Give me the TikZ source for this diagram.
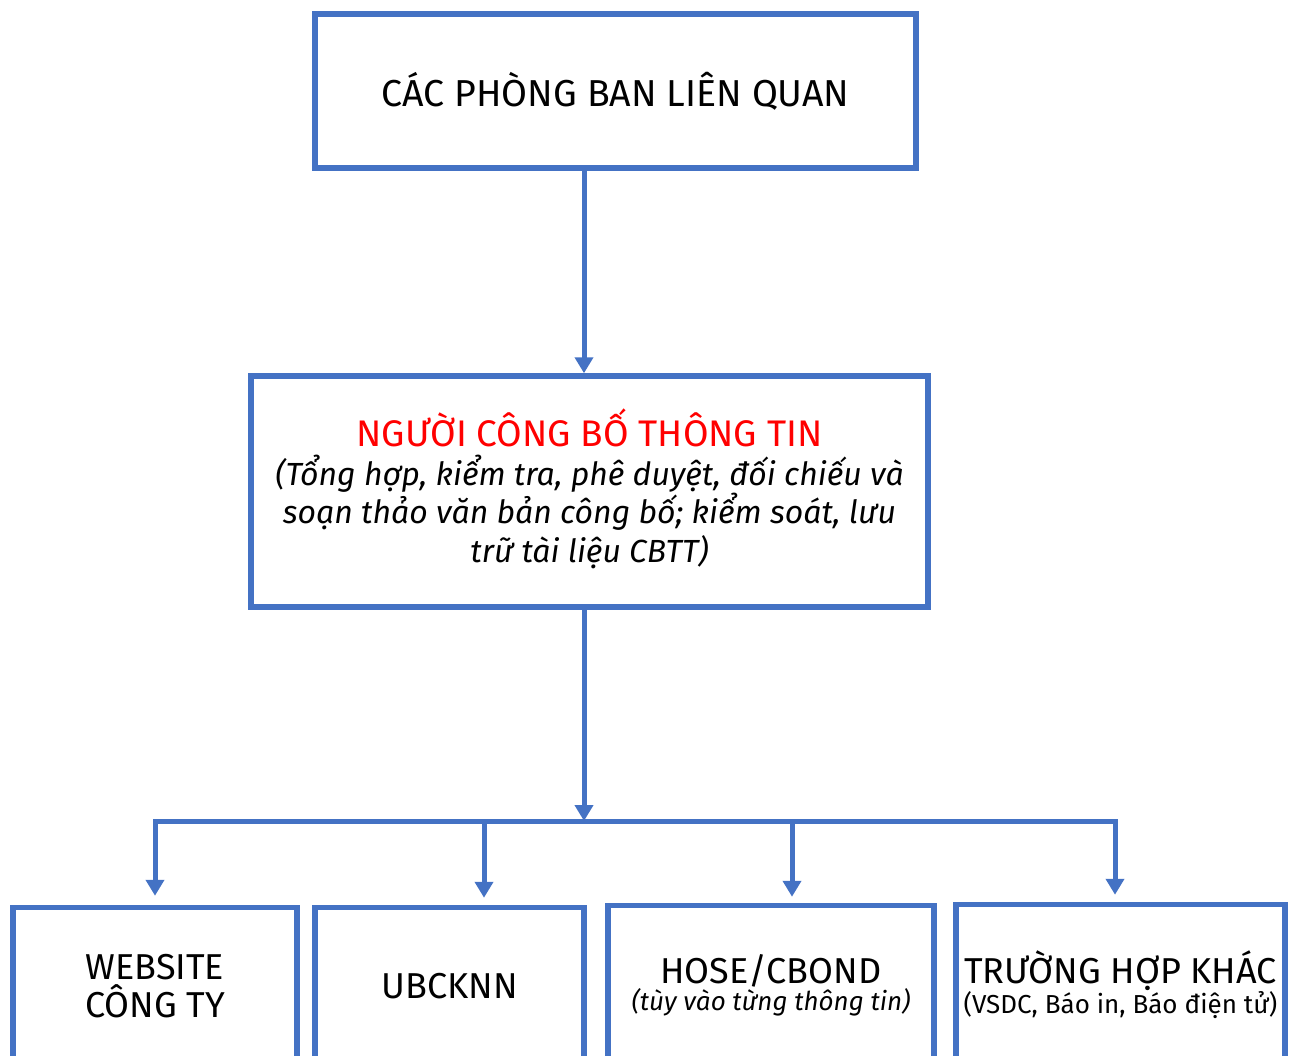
\documentclass[tikz,border=0pt]{standalone}
\usepackage{fontspec}
\setmainfont{Fira Sans}
\usetikzlibrary{arrows.meta}
\definecolor{bl}{HTML}{4472C4}
\definecolor{rd}{HTML}{FF0000}
\begin{document}
\begin{tikzpicture}[x=1pt,y=-1pt,
  box/.style={draw=bl,line width=5.5pt,align=center,inner sep=0pt},
  conn/.style={draw=bl,line width=5pt},
  arr/.style={conn,-{Triangle[width=18pt,length=16pt]}},
  big/.style={font=\fontsize{36}{38.5}\selectfont}]
\useasboundingbox (0,0) rectangle (1292,1056);
\node[box,font=\fontsize{37.5}{40}\selectfont,minimum width=601pt,minimum height=154pt] (top) at (615.5,91) {CÁC PHÒNG BAN LIÊN QUAN};
\node[box,minimum width=677pt,minimum height=231pt] (mid) at (589.5,491.5) {};
\node[big,align=center,inner sep=0pt] (midtext) at (589.5,489)
  {\textcolor{rd}{\fontsize{37}{38.5}\selectfont NGƯỜI CÔNG BỐ THÔNG TIN}\\
   {\fontsize{32}{38.5}\selectfont\itshape (Tổng hợp, kiểm tra, phê duyệt, đối chiếu và}\\
   {\fontsize{32}{38.5}\selectfont\itshape soạn thảo văn bản công bố; kiểm soát, lưu}\\
   {\fontsize{32}{38.5}\selectfont\itshape trữ tài liệu CBTT)}};
\node[box,big,minimum width=284pt,minimum height=157pt] (b1) at (155,986) {WEBSITE\\CÔNG TY};
\node[box,big,minimum width=269pt,minimum height=157pt] (b2) at (449.5,986) {UBCKNN};
\node[box,minimum width=326pt,minimum height=159pt] (b3) at (771,985)
  {{\fontsize{36}{35}\selectfont HOSE/CBOND}\\{\fontsize{26}{35}\selectfont\itshape (tùy vào từng thông tin)}};
\node[box,minimum width=329pt,minimum height=160pt] (b4) at (1120.5,984.5)
  {{\fontsize{36}{35}\selectfont TRƯỜNG HỢP KHÁC}\\{\fontsize{26}{35}\selectfont (VSDC, Báo in, Báo điện tử)}};
\coordinate (j) at (584,821);
\coordinate (j1) at (155,821);
\coordinate (j2) at (484,821);
\coordinate (j3) at (792,821);
\coordinate (j4) at (1115,821);
\draw[arr] (j |- top.south) -- (j |- mid.north);
\draw[arr] (j |- mid.south) -- (j);
\draw[conn,line cap=rect] (j1) -- (j4);
\draw[arr] (j1) -- ([yshift=9pt]j1 |- b1.north);
\draw[arr] (j2) -- ([yshift=7pt]j2 |- b2.north);
\draw[arr] (j3) -- ([yshift=6pt]j3 |- b3.north);
\draw[arr] (j4) -- ([yshift=7pt]j4 |- b4.north);
\end{tikzpicture}
\end{document}
